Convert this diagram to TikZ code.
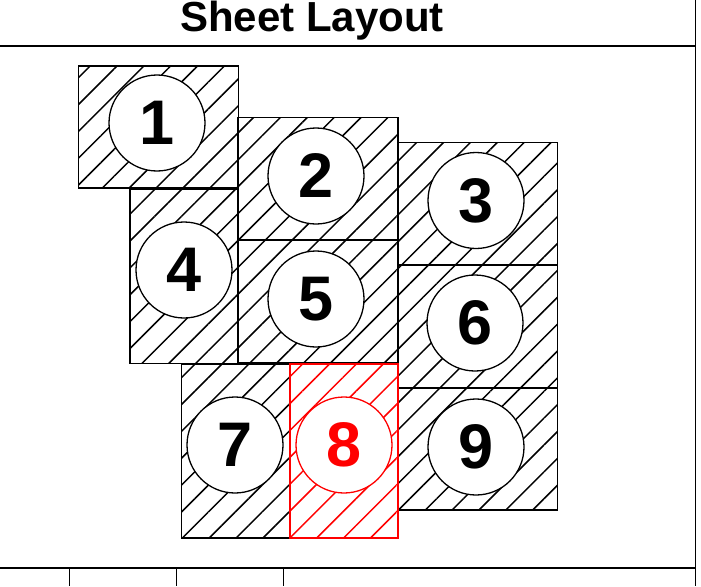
\documentclass[tikz,border=0pt]{standalone}
\usepackage{fontspec}
\setmainfont{Liberation Sans}
\usetikzlibrary{patterns.meta}

\begin{document}
\begin{tikzpicture}[
  x=1pt, y=1pt,
  frame/.style={draw=black, line width=1.7pt},
  sheet/.style={
    draw=black, line width=1.5pt, inner sep=0pt, outer sep=0pt,
    pattern={Lines[angle=45, distance=19pt, line width=1.5pt]},
    pattern color=black
  },
  wide/.style={minimum width=160pt, minimum height=122pt},
  tall/.style={minimum width=108pt, minimum height=174pt},
  tag/.style={
    circle, draw=black, fill=white, line width=1.3pt,
    minimum size=96pt, inner sep=0pt,
    font=\fontsize{63}{63}\selectfont\bfseries
  },
  current/.style={draw=red, pattern color=red, text=red},
  title/.style={font=\fontsize{42}{42}\selectfont\bfseries}
]
\useasboundingbox (0,0) rectangle (701,-586);

% Title strip and sheet frame.
\node[title, anchor=base] (layoutTitle) at (312,-32) {Sheet Layout};
\coordinate (topL) at (0,-46);
\coordinate (topR) at (695.5,-46);
\coordinate (rightT) at (695.5,0);
\coordinate (rightB) at (695.5,-586);
\coordinate (botL) at (0,-568);
\coordinate (botR) at (695.5,-568);
\draw[frame] (topL) -- (topR);
\draw[frame] (rightT) -- (rightB);
\draw[frame] (botL) -- (botR);
\foreach \tx [count=\ti] in {69.5,176.5,283.5} {
  \coordinate (tickT\ti) at (\tx,-568);
  \coordinate (tickB\ti) at (\tx,-586);
  \draw[frame] (tickT\ti) -- (tickB\ti);
}

% Sheets.
\node[sheet, wide] (sheetOne)   at (158.5,-127) {};
\node[sheet, wide] (sheetTwo)   at (318,-178.5) {};
\node[sheet, wide] (sheetThree) at (477.5,-203.5) {};
\node[sheet, tall] (sheetFour)  at (184,-276.5) {};
\node[sheet, wide] (sheetFive)  at (318,-301.5) {};
\node[sheet, wide] (sheetSix)   at (477.5,-326.5) {};
\node[sheet, tall] (sheetSeven) at (235.5,-451) {};
\node[sheet, wide] (sheetNine)  at (477.5,-449) {};
\node[sheet, tall, current] (sheetEight) at (344,-451) {};

% Sheet numbers.
\node[tag] (tagOne)   at (157,-123) {1};
\node[tag] (tagTwo)   at (316,-176) {2};
\node[tag] (tagThree) at (476,-200.5) {3};
\node[tag] (tagFour)  at (184,-270) {4};
\node[tag] (tagFive)  at (316,-299) {5};
\node[tag] (tagSix)   at (475,-323) {6};
\node[tag] (tagSeven) at (235,-445) {7};
\node[tag, current] (tagEight) at (344,-445) {8};
\node[tag] (tagNine)  at (476,-447) {9};

\end{tikzpicture}
\end{document}
